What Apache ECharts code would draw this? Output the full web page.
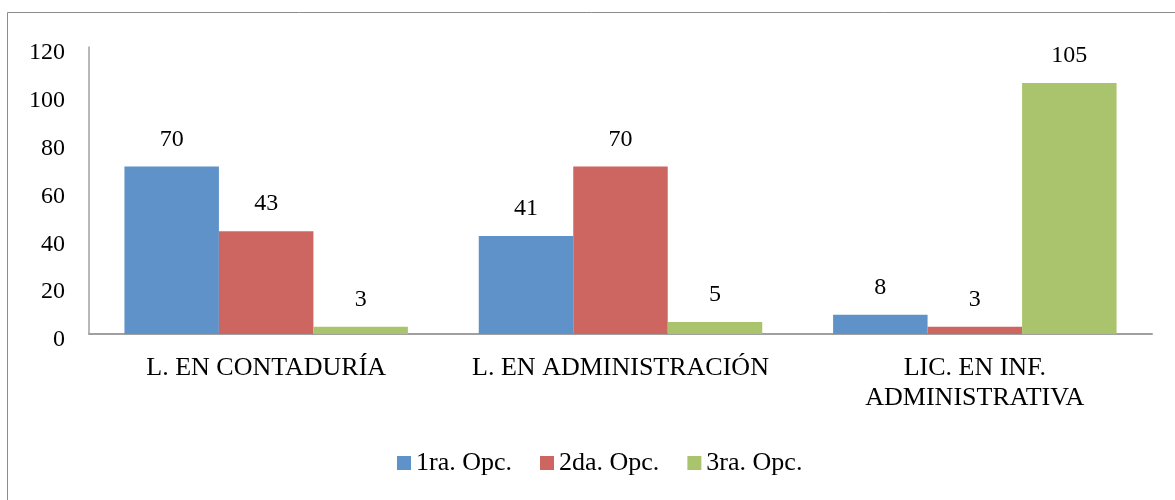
<!DOCTYPE html>
<html>
<head>
<meta charset="utf-8">
<script src="https://cdn.jsdelivr.net/npm/echarts@6/dist/echarts.min.js"></script>
<style>
	body { margin: 0; background: #fff; }
	#main { width: 1175px; height: 500px; }
</style>
</head>
<body>
<div id="main"></div>
<script>
	// datos
	var categorias = ['L. EN CONTADURÍA', 'L. EN ADMINISTRACIÓN', 'LIC. EN INF.\nADMINISTRATIVA'];
	var opc1 = [70, 41, 8];
	var opc2 = [43, 70, 3];
	var opc3 = [3, 5, 105];
	var nombres = ['1ra. Opc.', '2da. Opc.', '3ra. Opc.'];
	var colores = ['#5F92C9', '#CD6660', '#AAC46D'];

	var fuente = '"Liberation Serif", "Times New Roman", serif';
	var myChart = echarts.init(document.getElementById('main'));

	function serie(nombre, datos, color) {
		return {
			name: nombre,
			type: 'bar',
			data: datos,
			barGap: 0,
			barCategoryGap: '20%',
			itemStyle: { color: color },
			label: {
				show: true,
				position: 'top',
				distance: 15,
				color: '#000',
				fontFamily: fuente,
				fontSize: 24
			}
		};
	}

	myChart.setOption({
		animation: false,
		textStyle: { fontFamily: fuente },
		graphic: [{
			type: 'rect',
			shape: { x: 7.5, y: 12.5, width: 1300, height: 600 },
			style: { fill: 'none', stroke: '#8c8c8c', lineWidth: 1 }
		}],
		grid: { left: 89, right: 23, top: 47, bottom: 166 },
		legend: {
			bottom: 19,
			left: 392,
			itemWidth: 14,
			itemHeight: 14,
			itemGap: 28,
			itemTextGap: 7,
			icon: 'rect',
			textStyle: { fontFamily: fuente, fontSize: 26, color: '#000' },
			data: nombres
		},
		xAxis: {
			type: 'category',
			data: categorias,
			axisTick: { show: false },
			axisLine: { lineStyle: { color: '#a0a0a0', width: 2 } },
			axisLabel: {
				color: '#000',
				fontFamily: fuente,
				fontSize: 26,
				margin: 19,
				lineHeight: 30,
				interval: 0
			}
		},
		yAxis: {
			type: 'value',
			min: 0,
			max: 120,
			interval: 20,
			splitLine: { show: false },
			axisTick: { show: false },
			axisLine: { show: true, lineStyle: { color: '#a0a0a0', width: 1.5 } },
			axisLabel: {
				margin: 24,
				formatter: '{v|{value}}',
				rich: {
					v: {
						color: '#000',
						fontFamily: fuente,
						fontSize: 24,
						padding: [12, 0, 0, 0]
					}
				}
			}
		},
		series: [
			serie(nombres[0], opc1, colores[0]),
			serie(nombres[1], opc2, colores[1]),
			serie(nombres[2], opc3, colores[2])
		]
	});
</script>
</body>
</html>
